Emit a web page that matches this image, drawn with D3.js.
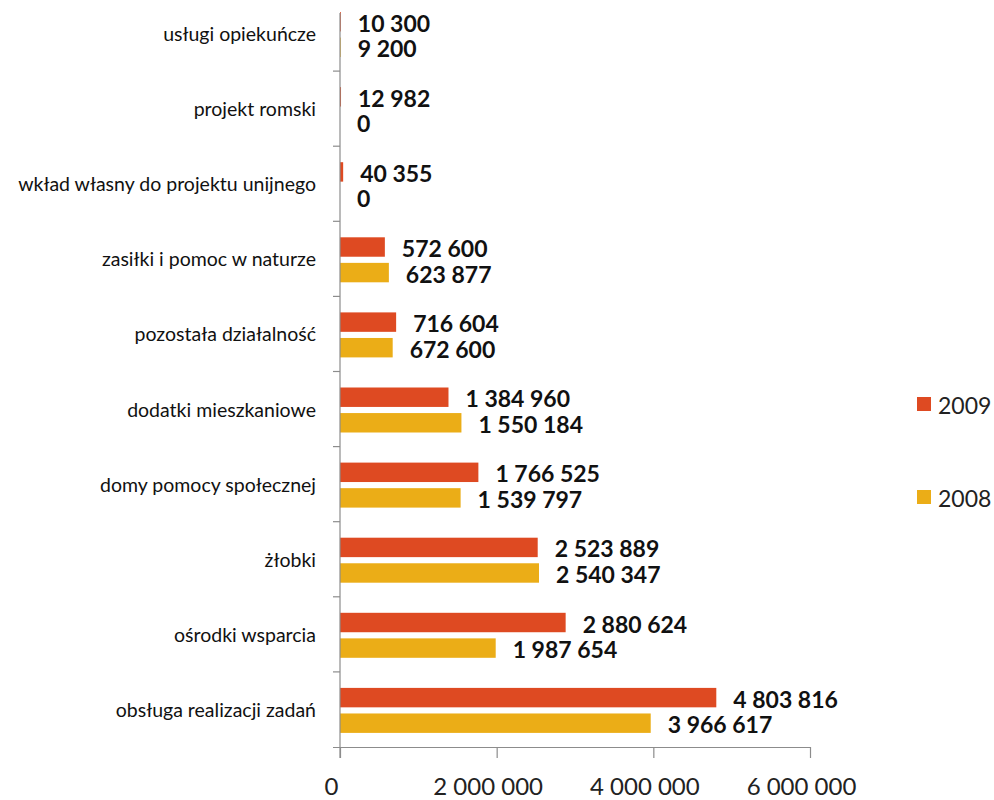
<!DOCTYPE html>
<html><head><meta charset="utf-8">
<script src="https://cdn.jsdelivr.net/npm/d3@7"></script>
<style>body{margin:0;background:#fff}svg{display:block}</style>
</head><body>
<svg id="c" width="994" height="800"></svg>
<script>
const categories = ["usługi opiekuńcze","projekt romski","wkład własny do projektu unijnego","zasiłki i pomoc w naturze","pozostała działalność","dodatki mieszkaniowe","domy pomocy społecznej","żłobki","ośrodki wsparcia","obsługa realizacji zadań"];
const values2009 = [10300,12982,40355,572600,716604,1384960,1766525,2523889,2880624,4803816];
const values2008 = [9200,0,0,623877,672600,1550184,1539797,2540347,1987654,3966617];
const seriesNames = ["2009","2008"];
const seriesColors = ["#DE4A22","#EBAD17"];
const xTicks = [0,2000000,4000000,6000000];

const svg = d3.select("#c");
const fmt = d3.formatLocale({decimal:",",thousands:"\u00a0",grouping:[3],currency:["",""]}).format(",d");
const font = "Lato, 'Open Sans', sans-serif";

const x = d3.scaleLinear().domain([0,6000000]).range([340,810]);
const y = d3.scaleBand().domain(categories).range([-4,747]);
const yi = d3.scaleBand().domain(seriesNames).range([16,61]).paddingInner(0.24);
const series = [values2009, values2008];

// bars
const g = svg.append("g");
categories.forEach((c,i)=>{
  series.forEach((vals,s)=>{
    const v = vals[i];
    const yy = y(c)+yi(seriesNames[s]);
    g.append("rect").attr("x",x(0)).attr("y",yy)
      .attr("width",x(v)-x(0)).attr("height",yi.bandwidth())
      .attr("fill",seriesColors[s]);
    g.append("text").attr("x",x(v)+17).attr("y",yy+yi.bandwidth()/2+1)
      .attr("dominant-baseline","central")
      .attr("font-family",font).attr("font-weight","bold").attr("font-size",23)
      .attr("fill","#111").text(fmt(v));
  });
  // category labels
  svg.append("text").attr("x",316).attr("y",y(c)+y.bandwidth()/2)
    .attr("text-anchor","end").attr("dominant-baseline","central")
    .attr("font-family",font).attr("font-size",19.5).attr("fill","#111").text(c);
});

// y axis line and ticks
const axisColor = "#8c8c8c";
svg.append("line").attr("x1",x(0)).attr("x2",x(0)).attr("y1",13).attr("y2",758)
  .attr("stroke",axisColor).attr("stroke-width",1.2);
categories.forEach((c,i)=>{
  if(i===0) return;
  svg.append("line").attr("x1",x(0)-7).attr("x2",x(0)).attr("y1",y(c)).attr("y2",y(c))
    .attr("stroke",axisColor).attr("stroke-width",1.2);
});

// x axis
const xa = svg.append("g").attr("transform",`translate(0,${y.range()[1]})`)
  .call(d3.axisBottom(x).tickValues(xTicks).tickFormat(fmt).tickSize(11).tickSizeOuter(0).tickPadding(20));
xa.select(".domain").attr("stroke",axisColor).attr("stroke-width",1.2).attr("d",`M${x(0)-7},0.5H${x(6000000)}`);
xa.selectAll(".tick line").attr("stroke",axisColor).attr("stroke-width",1.2);
xa.selectAll(".tick text").attr("font-family",font).attr("font-size",24).attr("fill","#222")
  .attr("dx",-9);

// legend
const legY = [404, 497];
seriesNames.forEach((n,s)=>{
  svg.append("rect").attr("x",917).attr("y",legY[s]-7).attr("width",14).attr("height",14).attr("fill",seriesColors[s]);
  svg.append("text").attr("x",938).attr("y",legY[s]+1).attr("dominant-baseline","central")
    .attr("font-family",font).attr("font-size",23).attr("fill","#222").text(n);
});
</script>
</body></html>
